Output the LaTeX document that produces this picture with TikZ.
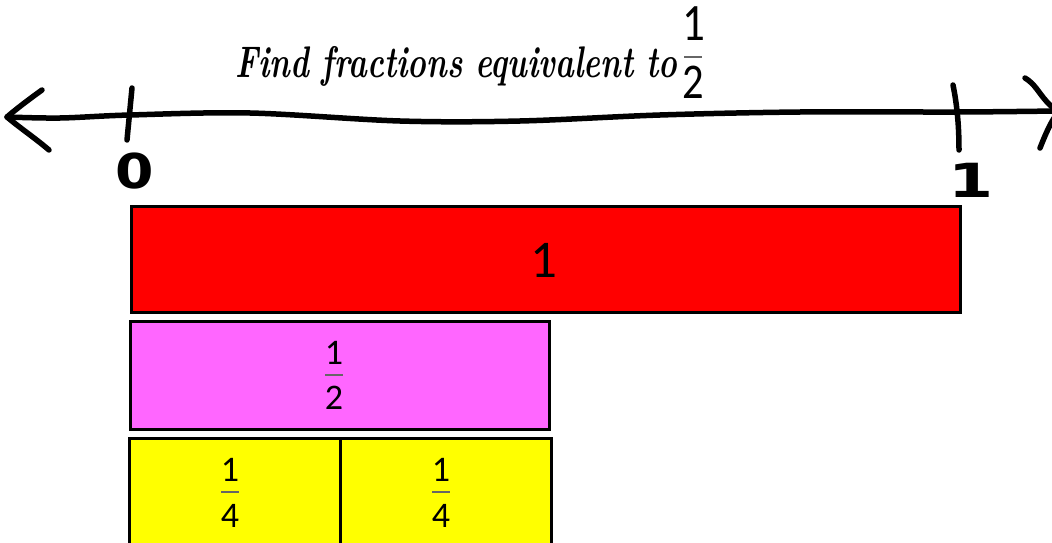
\documentclass[tikz,border=0pt]{standalone}
\usepackage{fontspec}
\newfontfamily\carl{Carlito}
\newfontfamily\dej{DejaVu Sans}
\definecolor{barred}{HTML}{FF0000}
\definecolor{barpink}{HTML}{FF66FF}
\definecolor{baryel}{HTML}{FFFF00}
\tikzset{
  hand/.style={line width=5.5pt,line cap=round,line join=round,black},
  bar/.style={draw=black,line width=2.6pt},
  digit/.style={inner sep=0pt,font=\carl\fontsize{36}{40}\selectfont},
  fbar/.style={line width=1.3pt,draw=black!60}
}
\begin{document}
\begin{tikzpicture}[x=1pt,y=-1pt]
\useasboundingbox (0,0) rectangle (1052,543);
\clip (0,0) rectangle (1052,543);
% title
\node[inner sep=0pt,anchor=west] (title) at (235,66)
  {\resizebox*{442pt}{40pt}{\bfseries\itshape Find fractions equivalent to}};
\node[inner sep=0pt,font=\carl\fontsize{50}{50}\selectfont] (tn) at (694,24) {\scalebox{0.9}[1.05]{1}};
\coordinate (ta) at (684,57);
\coordinate (tb) at (702,57);
\draw[line width=1.3pt,draw=black!60] (ta) -- (tb);
\node[inner sep=0pt,font=\carl\fontsize{50}{50}\selectfont] (td) at (693,82) {\scalebox{0.85}[1]{2}};
% number line
\coordinate (L) at (7,117);
\coordinate (R) at (1056,111);
\draw[hand] plot[smooth,tension=0.55] coordinates {(L) (60,118) (130,115) (250,113) (400,121) (520,121) (660,115) (800,112) (958,112) (R)};
\coordinate (la) at (42,90);
\coordinate (lb) at (49,150);
\draw[hand] (la) .. controls (28,100) and (15,110) .. (L) .. controls (20,128) and (35,138) .. (lb);
\coordinate (ra) at (1025,78);
\coordinate (rb) at (1040,148);
\draw[hand] (ra) .. controls (1035,84) and (1038,92) .. (1047,102) -- (R);
\draw[hand] (rb) .. controls (1044,138) and (1048,128) .. (1054,118);
% ticks
\coordinate (t0a) at (132,88);
\coordinate (t0b) at (127,140);
\draw[hand] (t0a) -- (t0b);
\coordinate (t1a) at (953,85);
\coordinate (t1b) at (959,150);
\draw[hand] (t1a) .. controls (956,100) and (959,120) .. (t1b);
\node[inner sep=0pt,font=\dej\bfseries\fontsize{48}{48}\selectfont] (zero) at (135,171) {\scalebox{1.15}[1]{0}};
\node[inner sep=0pt,font=\dej\bfseries\fontsize{48}{48}\selectfont] (one) at (971,180) {\scalebox{1.35}[0.98]{1}};
% bars
\node[bar,fill=barred,minimum width=829pt,minimum height=106pt,anchor=north west,inner sep=0pt] (whole) at (130,205) {};
\node[inner sep=0pt,font=\carl\fontsize{53}{55}\selectfont] (wl) at (544,260) {1};
\node[bar,fill=barpink,minimum width=419pt,minimum height=108pt,anchor=north west,inner sep=0pt] (half) at (129,320) {};
\node[bar,fill=baryel,minimum width=211pt,minimum height=130pt,anchor=north west,inner sep=0pt] (q1) at (128,437) {};
\node[bar,fill=baryel,minimum width=211pt,minimum height=130pt,anchor=north west,inner sep=0pt] (q2) at (339,437) {};
% fractions
\node[digit] (hn) at (334,353) {1};
\coordinate (ha) at (325,375);
\coordinate (hb) at (343,375);
\draw[fbar] (ha) -- (hb);
\node[digit] (hd) at (334,398) {2};
\node[digit] (q1n) at (230,470) {1};
\coordinate (q1a) at (221,492);
\coordinate (q1b) at (239,492);
\draw[fbar] (q1a) -- (q1b);
\node[digit] (q1d) at (230,516) {4};
\node[digit] (q2n) at (441,470) {1};
\coordinate (q2a) at (432,492);
\coordinate (q2b) at (450,492);
\draw[fbar] (q2a) -- (q2b);
\node[digit] (q2d) at (441,516) {4};
\end{tikzpicture}
\end{document}
